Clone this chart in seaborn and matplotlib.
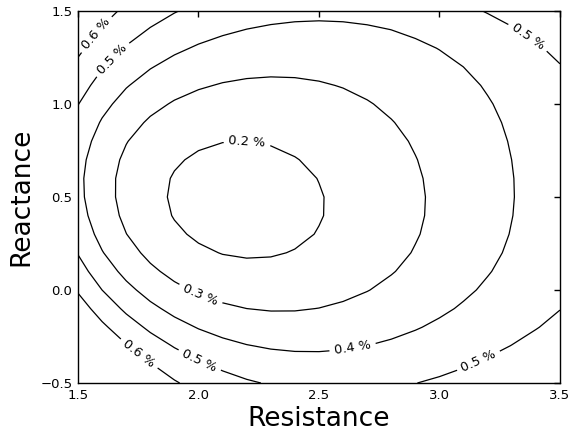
import numpy as np
import matplotlib
matplotlib.use("Agg")
import matplotlib.pyplot as plt
import seaborn as sns

levels = [0.2, 0.3, 0.4, 0.5, 0.6]

# points (resistance, reactance)
c02_x = [1.876, 1.948, 2.045, 2.204, 2.322, 2.432, 2.495, 2.507, 2.480, 2.391, 2.197, 2.017, 1.907]
c02_y = [0.512, 0.692, 0.773, 0.808, 0.781, 0.692, 0.548, 0.495, 0.369, 0.262, 0.187, 0.253, 0.369]

c03_x = [2.266, 2.045, 1.865, 1.727, 1.658, 1.644, 1.665, 1.727, 1.907, 2.100,
         2.322, 2.508, 2.634, 2.814, 2.924, 2.956, 2.939, 2.856, 2.703, 2.496]
c03_y = [1.167, 1.131, 0.996, 0.817, 0.620, 0.512, 0.333, 0.172, 0.020, -0.097,
         -0.129, -0.106, -0.061, 0.082, 0.262, 0.495, 0.692, 0.871, 1.032, 1.131]

c04_x = [2.508, 2.183, 1.976, 1.768, 1.630, 1.547, 1.520, 1.540, 1.630, 1.768, 1.948,
         2.183, 2.508, 2.703, 2.911, 3.146, 3.291, 3.330, 3.298, 3.215, 3.049, 2.773]
c04_y = [1.435, 1.399, 1.319, 1.158, 0.961, 0.746, 0.531, 0.297, 0.082, -0.097, -0.222,
         -0.312, -0.356, -0.303, -0.231, -0.061, 0.208, 0.495, 0.799, 1.032, 1.247, 1.391]

c05_x = [1.500, 1.547, 1.644, 1.768, 1.920,
         1.500, 1.602, 1.741, 1.907, 2.003, 2.086, 2.288,
         3.173, 3.271, 3.354, 3.450, 3.500,
         3.500, 3.395, 3.243, 3.160, 3.022, 2.894]
c05_y = [0.988, 1.104, 1.247, 1.382, 1.500,
         0.208, 0.047, -0.133, -0.294, -0.366, -0.437, -0.500,
         1.500, 1.435, 1.355, 1.265, 1.184,
         -0.070, -0.204, -0.312, -0.366, -0.428, -0.500]

c06_x = [1.500, 1.588, 1.699, 1.500, 1.588, 1.685, 1.837, 1.981]
c06_y = [1.220, 1.355, 1.500, 0.038, -0.097, -0.231, -0.410, -0.500]

# rough readings between the lines: centre, edge middles, corners
est_x = [2.2, 3.5, 2.5, 2.5, 1.5, 1.5, 1.5, 3.5, 3.5]
est_y = [0.5, 0.5, 1.5, -0.5, 0.55, 1.5, -0.5, 1.5, -0.5]
est_z = [0.17, 0.45, 0.425, 0.46, 0.405, 0.67, 0.8, 0.55, 0.55]

# where the inline labels sit
label_spots = [(2.204, 0.813), (2.003, -0.043), (2.641, -0.321),
               (1.644, 1.238), (1.595, 1.355), (2.003, -0.383),
               (1.761, -0.330), (3.160, -0.375), (3.360, 1.346)]


def basis(x, y, deg=5):
    s = np.log(x / 2.3) * 2.4
    t = y - 0.5
    return np.column_stack([s ** i * t ** j for i in range(deg + 1) for j in range(deg + 1 - i)])


traces = [(c02_x, c02_y), (c03_x, c03_y), (c04_x, c04_y), (c05_x, c05_y), (c06_x, c06_y)]
trace_weight = [3.0, 2.0, 1.5, 2.0, 1.0]
px = np.concatenate([np.array(tx) for tx, _ in traces] + [np.array(est_x)])
py = np.concatenate([np.array(ty) for _, ty in traces] + [np.array(est_y)])
pz = np.concatenate([np.full(len(tx), lv) for (tx, _), lv in zip(traces, levels)] + [np.array(est_z)])
pw = np.concatenate([np.full(len(tx), w) for (tx, _), w in zip(traces, trace_weight)]
                    + [np.full(len(est_x), 1.0)])

A = basis(px, py) * pw[:, None]
coef, *_ = np.linalg.lstsq(A, pz * pw, rcond=None)

gx = np.linspace(1.5, 3.5, 21)
gy = np.linspace(-0.5, 1.5, 21)
GX, GY = np.meshgrid(gx, gy)
Z = (basis(GX.ravel(), GY.ravel()) @ coef).reshape(GX.shape)

sns.set_theme(style="white")
plt.rcParams["font.family"] = ["DejaVu Sans"]
plt.rcParams["text.color"] = "black"
plt.rcParams["axes.labelcolor"] = "black"

fig, ax = plt.subplots(figsize=(5.71, 4.34), dpi=100)
fig.subplots_adjust(left=0.1366, right=0.9807, top=0.9747, bottom=0.1175)

cs = ax.contour(GX, GY, Z, levels=levels, colors="black", linewidths=0.9)
ax.clabel(cs, fmt="%.1f %%", fontsize=9.3, inline=True, manual=label_spots)

ax.set_xlim(1.5, 3.5)
ax.set_ylim(-0.5, 1.5)
ax.set_xticks([1.5, 2.0, 2.5, 3.0, 3.5])
ax.set_yticks([-0.5, 0.0, 0.5, 1.0, 1.5])
ax.tick_params(direction="in", top=True, right=True, length=4, width=1,
               labelsize=9.5, pad=4, colors="black")
for sp in ax.spines.values():
    sp.set_color("black")
    sp.set_linewidth(1.0)

ax.set_xlabel("Resistance", fontsize=19, labelpad=3)
ax.set_ylabel("Reactance", fontsize=19, labelpad=4)

fig.savefig("out.png", dpi=100)
